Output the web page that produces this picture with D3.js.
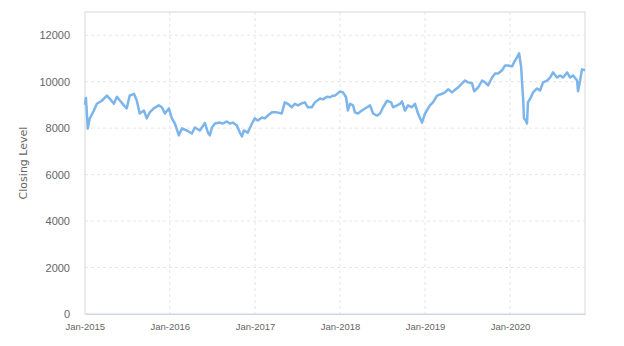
<!DOCTYPE html>
<html>
<head>
<meta charset="utf-8">
<script src="https://cdn.jsdelivr.net/npm/d3@7"></script>
<style>
  body { margin: 0; background: #fff; }
  svg { display: block; font-family: "DejaVu Sans", sans-serif; }
</style>
</head>
<body>
<svg id="chart-svg"></svg>
<script>
// fechas y cierres
var fechas = [
  "2015-01-02","2015-01-06","2015-01-14","2015-01-22","2015-02-09","2015-02-22","2015-03-15","2015-04-06",
  "2015-04-18","2015-05-06","2015-05-19","2015-05-31","2015-06-18","2015-06-30","2015-07-13","2015-07-31",
  "2015-08-12","2015-08-25","2015-09-12","2015-09-24","2015-10-07","2015-10-24","2015-11-15","2015-11-28",
  "2015-12-11","2015-12-28","2016-01-10","2016-01-23","2016-02-09","2016-02-22","2016-03-14","2016-04-05",
  "2016-04-18","2016-05-09","2016-05-31","2016-06-13","2016-06-21","2016-06-30","2016-07-13","2016-08-03",
  "2016-08-16","2016-09-02","2016-09-15","2016-09-28","2016-10-15","2016-10-28","2016-11-06","2016-11-14",
  "2016-12-01","2016-12-19","2016-12-31","2017-01-13","2017-01-31","2017-02-12","2017-02-25","2017-03-15",
  "2017-04-05","2017-04-26","2017-05-09","2017-05-22","2017-06-08","2017-06-21","2017-07-04","2017-07-21",
  "2017-08-03","2017-08-16","2017-09-02","2017-09-15","2017-10-07","2017-10-20","2017-11-06","2017-11-19",
  "2017-12-02","2017-12-10","2018-01-01","2018-01-14","2018-01-27","2018-02-04","2018-02-13","2018-02-26",
  "2018-03-06","2018-03-19","2018-04-05","2018-04-27","2018-05-10","2018-05-23","2018-06-09","2018-06-22",
  "2018-07-05","2018-07-22","2018-08-08","2018-08-17","2018-09-03","2018-09-16","2018-09-24","2018-10-07",
  "2018-10-20","2018-11-06","2018-11-19","2018-12-02","2018-12-19","2019-01-01","2019-01-22","2019-02-04",
  "2019-02-22","2019-03-15","2019-03-28","2019-04-10","2019-04-27","2019-05-10","2019-05-23","2019-06-09",
  "2019-06-22","2019-07-05","2019-07-22","2019-07-31","2019-08-17","2019-09-03","2019-09-16","2019-09-29",
  "2019-10-16","2019-10-29","2019-11-11","2019-11-28","2019-12-11","2019-12-24","2020-01-10","2020-01-18",
  "2020-01-31","2020-02-09","2020-02-18","2020-02-22","2020-02-26","2020-03-01","2020-03-09","2020-03-14",
  "2020-03-18","2020-03-31","2020-04-09","2020-04-26","2020-05-09","2020-05-22","2020-06-08","2020-06-21",
  "2020-07-04","2020-07-21","2020-08-03","2020-08-16","2020-09-02","2020-09-15","2020-09-28","2020-10-15",
  "2020-10-19","2020-10-28","2020-11-05","2020-11-18"
];
var cierres = [
  9000,9300,7980,8400,8760,9050,9180,9400,
  9270,9050,9350,9200,8980,8850,9400,9480,
  9200,8630,8760,8420,8680,8850,8980,8900,
  8630,8850,8420,8200,7690,7990,7900,7770,
  8030,7900,8220,7810,7690,8030,8200,8240,
  8200,8290,8200,8240,8110,7810,7640,7900,
  7810,8200,8420,8330,8460,8420,8540,8680,
  8680,8630,9110,9050,8900,9050,8980,9070,
  9110,8900,8900,9110,9280,9240,9350,9330,
  9400,9400,9580,9540,9330,8760,9050,8980,
  8680,8630,8760,8900,8980,8630,8540,8630,
  8900,9180,9110,8900,8980,9050,9150,8760,
  8980,8900,9050,8630,8240,8630,8980,9110,
  9400,9480,9540,9670,9540,9650,9750,9930,
  10050,9970,9930,9590,9750,10050,9970,9840,
  10180,10350,10350,10490,10700,10700,10660,10830,
  11050,11220,10620,9930,9330,8420,8330,8200,
  9110,9330,9540,9710,9620,9970,10050,10180,
  10400,10180,10270,10180,10400,10180,10270,10050,
  9590,10050,10530,10490
];
var ticksY = [0, 2000, 4000, 6000, 8000, 10000, 12000];
var tituloY = "Closing Level";

var anchura = 624, altura = 346;
var margen = { top: 12, right: 39, bottom: 32, left: 85 };
var ancho = anchura - margen.left - margen.right;
var alto = altura - margen.top - margen.bottom;

var parse = d3.timeParse("%Y-%m-%d");
var datos = fechas.map(function (f, i) { return { fecha: parse(f), valor: cierres[i] }; });

var svg = d3.select("#chart-svg").attr("width", anchura).attr("height", altura);
var g = svg.append("g").attr("transform", "translate(" + margen.left + "," + margen.top + ")");

var x = d3.scaleTime().domain(d3.extent(datos, function (d) { return d.fecha; })).range([0, ancho]);
var y = d3.scaleLinear().domain([0, 13000]).range([alto, 0]);

// rejilla horizontal
g.selectAll(".grid-y")
  .data(ticksY.slice(1))
  .join("line")
  .attr("x1", 0).attr("x2", ancho)
  .attr("y1", function (d) { return y(d); }).attr("y2", function (d) { return y(d); })
  .attr("stroke", "#e6e6e6").attr("stroke-dasharray", "3,3");

// rejilla vertical
var ticksX = d3.timeYear.range(d3.timeYear.ceil(x.domain()[0]), x.domain()[1]);
ticksX.unshift(d3.timeYear.floor(x.domain()[0]));
g.selectAll(".grid-x")
  .data(ticksX.slice(1))
  .join("line")
  .attr("x1", function (d) { return x(d); }).attr("x2", function (d) { return x(d); })
  .attr("y1", 0).attr("y2", alto)
  .attr("stroke", "#e6e6e6").attr("stroke-dasharray", "3,3");

// borde del area
g.append("rect")
  .attr("width", ancho).attr("height", alto)
  .attr("fill", "none").attr("stroke", "#d8d8d8");

// eje x
var ejeX = g.append("g")
  .attr("transform", "translate(0," + alto + ")")
  .call(d3.axisBottom(x).tickValues(ticksX).tickFormat(d3.timeFormat("%b-%Y")).tickSize(0).tickPadding(9));
ejeX.select(".domain").attr("stroke", "#ccd6eb");
ejeX.selectAll("text").attr("fill", "#666").style("font-size", "9.5px");

// eje y
var ejeY = g.append("g")
  .call(d3.axisLeft(y).tickValues(ticksY).tickFormat(d3.format("d")).tickSize(0).tickPadding(15));
ejeY.select(".domain").remove();
ejeY.selectAll("text").attr("fill", "#666").style("font-size", "11px");

svg.append("text")
  .attr("transform", "translate(23," + (margen.top + alto / 2) + ") rotate(-90)")
  .attr("text-anchor", "middle")
  .attr("dy", "0.35em")
  .attr("fill", "#666")
  .style("font-size", "11px")
  .text(tituloY);

// linea
var linea = d3.line()
  .x(function (d) { return x(d.fecha); })
  .y(function (d) { return y(d.valor); });

g.append("path")
  .datum(datos)
  .attr("fill", "none")
  .attr("stroke", "#7cb5ec")
  .attr("stroke-width", 2.5)
  .attr("stroke-linejoin", "round")
  .attr("d", linea);
</script>
</body>
</html>
